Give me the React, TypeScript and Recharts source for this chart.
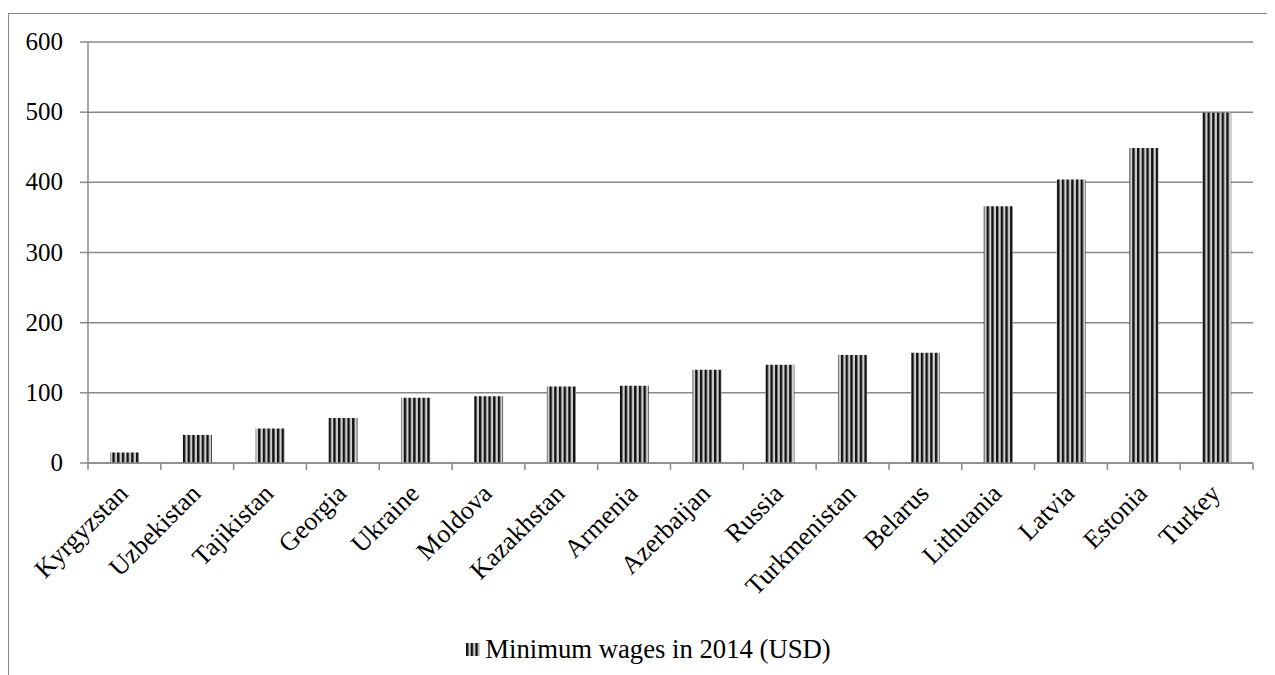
import { BarChart, Bar, XAxis, YAxis, CartesianGrid, Legend } from "recharts";

const countries = [
  "Kyrgyzstan",
  "Uzbekistan",
  "Tajikistan",
  "Georgia",
  "Ukraine",
  "Moldova",
  "Kazakhstan",
  "Armenia",
  "Azerbaijan",
  "Russia",
  "Turkmenistan",
  "Belarus",
  "Lithuania",
  "Latvia",
  "Estonia",
  "Turkey",
];
const wages = [15, 40, 49, 64, 93, 95, 109, 110, 133, 140, 154, 157, 366, 404, 449, 499];
const yTicks = [0, 100, 200, 300, 400, 500, 600];
const seriesName = "Minimum wages in 2014 (USD)";

const W = 1264;
const H = 661;
const margin = { top: 28, right: 20, left: 9, bottom: 10 };
const Y_W = 70;
const FONT = "'Liberation Serif', 'Times New Roman', serif";
const FS = 26;
const band = (W - margin.left - margin.right - Y_W) / countries.length;

const data = countries.map((c, i) => ({ name: c, value: wages[i] }));

function XTick(props: any) {
  const { x, y, payload, index } = props;
  const last = index === countries.length - 1;
  const ax = x + 5;
  const ay = y + 32;
  return (
    <g>
      <line x1={x - band / 2} y1={y} x2={x - band / 2} y2={y + 7} stroke="#888" strokeWidth={1.5} />
      {last && (
        <line x1={x + band / 2} y1={y} x2={x + band / 2} y2={y + 7} stroke="#888" strokeWidth={1.5} />
      )}
      <text
        x={ax}
        y={ay}
        textAnchor="end"
        fontSize={FS}
        fontFamily={FONT}
        fill="#000"
        transform={`rotate(-45, ${ax}, ${ay})`}
      >
        {payload.value}
      </text>
    </g>
  );
}

function YTick(props: any) {
  const { x, y, payload } = props;
  return (
    <text x={x} y={y} dy={8} textAnchor="end" fontSize={25} fontFamily={FONT} fill="#000">
      {payload.value}
    </text>
  );
}

function StripeLegend() {
  return (
    <div
      style={{
        display: "flex",
        justifyContent: "center",
        alignItems: "center",
        fontFamily: FONT,
        fontSize: 26.7,
        color: "#000",
        paddingLeft: 26,
      }}
    >
      <svg width={14} height={13} style={{ marginRight: 5 }}>
        <rect width={14} height={13} fill="url(#stripes)" />
      </svg>
      <span>{seriesName}</span>
    </div>
  );
}

export default function App() {
  return (
    <div
      style={{
        marginTop: 5,
        width: 1290,
        height: 700,
        border: "1px solid #888",
        boxSizing: "border-box",
        background: "#fff",
      }}
    >
      <BarChart width={W} height={H} data={data} margin={margin} barSize={29} style={{ fontFamily: FONT }}>
        <defs>
          <pattern id="stripes" patternUnits="userSpaceOnUse" width={4.7} height={10}>
            <rect width={4.7} height={10} fill="#cfcfcf" />
            <rect x={0} width={2.4} height={10} fill="#111" />
          </pattern>
        </defs>
        <CartesianGrid vertical={false} stroke="#888" strokeWidth={1.5} />
        <XAxis
          dataKey="name"
          interval={0}
          height={171}
          tickLine={false}
          tickSize={0}
          tickMargin={0}
          axisLine={{ stroke: "#888", strokeWidth: 1.5 }}
          tick={<XTick />}
        />
        <YAxis
          width={Y_W}
          domain={[0, 600]}
          ticks={yTicks}
          interval={0}
          tickSize={8}
          tickMargin={17}
          axisLine={{ stroke: "#888", strokeWidth: 1.5 }}
          tickLine={{ stroke: "#888", strokeWidth: 1.5 }}
          tick={<YTick />}
        />
        <Legend verticalAlign="bottom" content={<StripeLegend />} />
        <Bar dataKey="value" name={seriesName} fill="url(#stripes)" isAnimationActive={false} />
      </BarChart>
    </div>
  );
}
